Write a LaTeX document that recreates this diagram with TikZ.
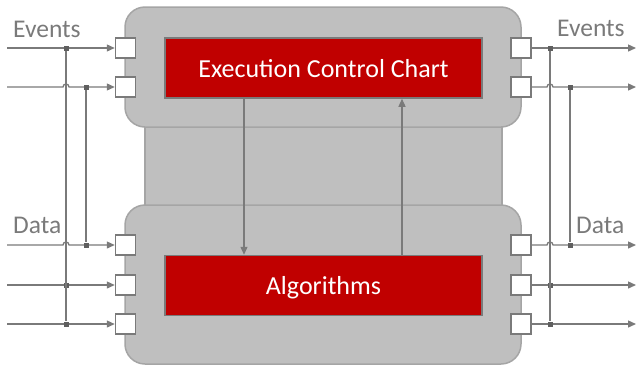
\documentclass[tikz,border=0pt]{standalone}
\usepackage{fontspec}
\setmainfont{Carlito}
\usetikzlibrary{arrows.meta}
\definecolor{fbgray}{HTML}{BFBFBF}
\definecolor{fbedge}{HTML}{A5A5A5}
\definecolor{wiregray}{HTML}{7A7A7A}
\definecolor{tapgray}{HTML}{5F5F5F}
\definecolor{fbred}{HTML}{C00000}

\begin{document}
\begin{tikzpicture}[x=1pt,y=-1pt,
  block/.style={draw=fbedge,fill=fbgray,line width=1.5pt,rounded corners=20pt,minimum width=396pt},
  redbox/.style={draw=wiregray,fill=fbred,line width=1.5pt,minimum width=317pt,minimum height=60pt,
    text=white,text depth=0pt,font=\fontsize{26}{31}\selectfont},
  port/.style={draw=wiregray,fill=white,line width=1.5pt,minimum size=20pt,inner sep=0pt},
  wire/.style={draw=wiregray,line width=1.3pt},
  sig/.style={wire,-{Triangle[length=8pt,width=7pt]}},
  tap/.style={fill=tapgray,minimum size=5pt,inner sep=0pt},
  lbl/.style={text=wiregray,font=\fontsize{25.5}{30}\selectfont,anchor=base west,inner sep=0pt}]
\useasboundingbox (0,0) rectangle (636,368);

% function block body
\draw[draw=fbedge,fill=fbgray,line width=1.5pt] (145,120) rectangle (502,215);
\node[block,minimum height=120pt] (head) at (323,67) {};
\node[block,minimum height=159pt] (body) at (323,284.5) {};

\node[redbox] (ecc) at (323.5,68) {Execution Control Chart};
\node[redbox] (algo) at (323.5,285.5) {Algorithms};

\coordinate (dn) at (244,0);
\coordinate (up) at (402,0);
\draw[sig] (ecc.south -| dn) -- (algo.north -| dn);
\draw[sig] (algo.north -| up) -- (ecc.south -| up);

% ports and wires
\foreach \y/\n in {48/1,87/2,245/3,285/4,324/5} {
  \node[port] (in\n) at (125.5,\y) {};
  \node[port] (out\n) at (521,\y) {};
  \coordinate (src\n) at (7,\y);
  \coordinate (dst\n) at (636,\y);
}
\foreach \n in {1,4,5} {
  \draw[sig] (src\n) -- (in\n.west);
  \draw[sig] (out\n.east) -- (dst\n);
}
\foreach \n in {2,3} {
  \draw[sig] (src\n) -- (63,0 |- in\n) arc[start angle=180,end angle=360,radius=3] -- (in\n.west);
  \draw[sig] (out\n.east) -- (547,0 |- out\n) arc[start angle=180,end angle=360,radius=3] -- (dst\n);
}

% buses
\foreach \y/\n in {48/1,285/4,324/5} {
  \node[tap] (tl\n) at (66,\y) {};
  \node[tap] (tr\n) at (550,\y) {};
}
\foreach \y/\n in {87/2,245/3} {
  \node[tap] (tl\n) at (86,\y) {};
  \node[tap] (tr\n) at (570,\y) {};
}
\draw[wire] (tl1) -- (tl5);
\draw[wire] (tl2) -- (tl3);
\draw[wire] (tr1) -- (tr5);
\draw[wire] (tr2) -- (tr3);

\node[lbl] (evin) at (13,37) {Events};
\node[lbl] (datain) at (13,233) {Data};
\node[lbl] (evout) at (557,36) {Events};
\node[lbl] (dataout) at (576,233) {Data};
\end{tikzpicture}
\end{document}
